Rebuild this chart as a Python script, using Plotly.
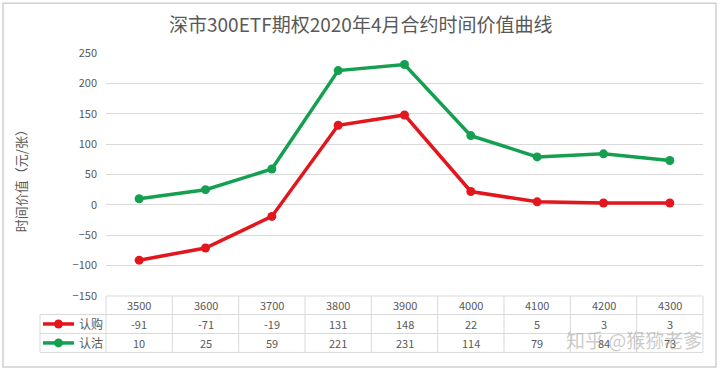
import plotly.graph_objects as go

strikes = ["3500", "3600", "3700", "3800", "3900", "4000", "4100", "4200", "4300"]
call_values = [-91, -71, -19, 131, 148, 22, 5, 3, 3]
put_values = [10, 25, 59, 221, 231, 114, 79, 84, 73]
series_names = ["认购", "认沽"]
y_ticks = [-150, -100, -50, 0, 50, 100, 150, 200, 250]

RED = "#E2161C"
GREEN = "#14A050"
GRID = "#D9D9D9"
TXT = "#595959"
FONT = "Noto Sans CJK SC, Liberation Sans, sans-serif"

W, H = 720, 371
L, R, T, B = 106, 703, 52.7, 296.0


def px_x(p):
    return (p - L) / (R - L)


def px_y(p):
    return (B - p) / (B - T)


xs = list(range(len(strikes)))

fig = go.Figure()
fig.add_trace(go.Scatter(x=xs, y=call_values, mode="lines+markers", name=series_names[0],
                         line=dict(color=RED, width=3.5), marker=dict(size=9, color=RED)))
fig.add_trace(go.Scatter(x=xs, y=put_values, mode="lines+markers", name=series_names[1],
                         line=dict(color=GREEN, width=3.5), marker=dict(size=9, color=GREEN)))

shapes = []
annotations = []

# outer frame
shapes.append(dict(type="rect", xref="paper", yref="paper", x0=px_x(3), x1=px_x(716),
                   y0=px_y(367), y1=px_y(3), line=dict(color="#D0D0D0", width=1.5)))

# table
rows_px = [296, 314.5, 333.5, 352.5]
tbl_left = 40
for i, yp in enumerate(rows_px):
    x0 = L if i == 0 else tbl_left
    shapes.append(dict(type="line", xref="paper", yref="paper", x0=px_x(x0), x1=px_x(R),
                       y0=px_y(yp), y1=px_y(yp), line=dict(color=GRID, width=1)))
n = len(strikes)
for j in range(n + 1):
    xp = L + (R - L) * j / n
    shapes.append(dict(type="line", xref="paper", yref="paper", x0=px_x(xp), x1=px_x(xp),
                       y0=px_y(rows_px[0]), y1=px_y(rows_px[-1]), line=dict(color=GRID, width=1)))
shapes.append(dict(type="line", xref="paper", yref="paper", x0=px_x(tbl_left), x1=px_x(tbl_left),
                   y0=px_y(rows_px[1]), y1=px_y(rows_px[-1]), line=dict(color=GRID, width=1)))

row_data = [strikes, [str(v) for v in call_values], [str(v) for v in put_values]]
for r, vals in enumerate(row_data):
    yc = (rows_px[r] + rows_px[r + 1]) / 2
    for j, v in enumerate(vals):
        annotations.append(dict(x=j, y=px_y(yc), xref="x", yref="paper", text=v, showarrow=False,
                                xanchor="center", yanchor="middle",
                                font=dict(family=FONT, size=11, color=TXT)))

# legend keys in table
for r, (name, col) in enumerate(zip(series_names, [RED, GREEN])):
    yc = (rows_px[r + 1] + rows_px[r + 2]) / 2
    shapes.append(dict(type="line", xref="paper", yref="paper", x0=px_x(43), x1=px_x(74),
                       y0=px_y(yc), y1=px_y(yc), line=dict(color=col, width=3.5)))
    shapes.append(dict(type="circle", xref="paper", yref="paper", x0=px_x(54), x1=px_x(63),
                       y0=px_y(yc + 4.5), y1=px_y(yc - 4.5), fillcolor=col, line=dict(color=col, width=0)))
    annotations.append(dict(x=px_x(77), y=px_y(yc), xref="paper", yref="paper", text=name,
                            showarrow=False, xanchor="left", yanchor="middle",
                            font=dict(family=FONT, size=12, color=TXT)))

# title
annotations.append(dict(x=px_x(360), y=px_y(23), xref="paper", yref="paper",
                        text="深市300ETF期权2020年4月合约时间价值曲线", showarrow=False,
                        xanchor="center", yanchor="middle",
                        font=dict(family=FONT, size=19, color=TXT)))
# y-axis title
annotations.append(dict(x=px_x(20), y=px_y(178), xref="paper", yref="paper",
                        text="时间价值（元/张）", showarrow=False, textangle=-90,
                        xanchor="center", yanchor="middle",
                        font=dict(family=FONT, size=13, color=TXT)))
# watermark
annotations.append(dict(x=px_x(634), y=px_y(340), xref="paper", yref="paper",
                        text="知乎 @猴猕老爹", showarrow=False,
                        xanchor="center", yanchor="middle",
                        font=dict(family=FONT, size=19, color="rgba(150,150,150,0.5)")))

fig.update_layout(
    width=W, height=H,
    margin=dict(l=L, r=W - R, t=T, b=H - B, pad=0),
    paper_bgcolor="white", plot_bgcolor="white",
    showlegend=False,
    xaxis=dict(range=[-0.5, n - 0.5], showticklabels=False, showgrid=False, zeroline=False,
               showline=False, ticks=""),
    yaxis=dict(range=[-150, 250], tickvals=y_ticks, showgrid=True, gridcolor=GRID, gridwidth=1,
               zeroline=False, showline=False, ticks="", ticklabelstandoff=8,
               tickfont=dict(family=FONT, size=11, color=TXT)),
    shapes=shapes,
    annotations=annotations,
)

fig.write_html("out.html", config={"displayModeBar": False})

with open("out.html", "r", encoding="utf-8") as f:
    html = f.read()
html = html.replace("<head>", "<head><style>html,body{margin:0;padding:0;overflow:hidden;}</style>", 1)
with open("out.html", "w", encoding="utf-8") as f:
    f.write(html)
